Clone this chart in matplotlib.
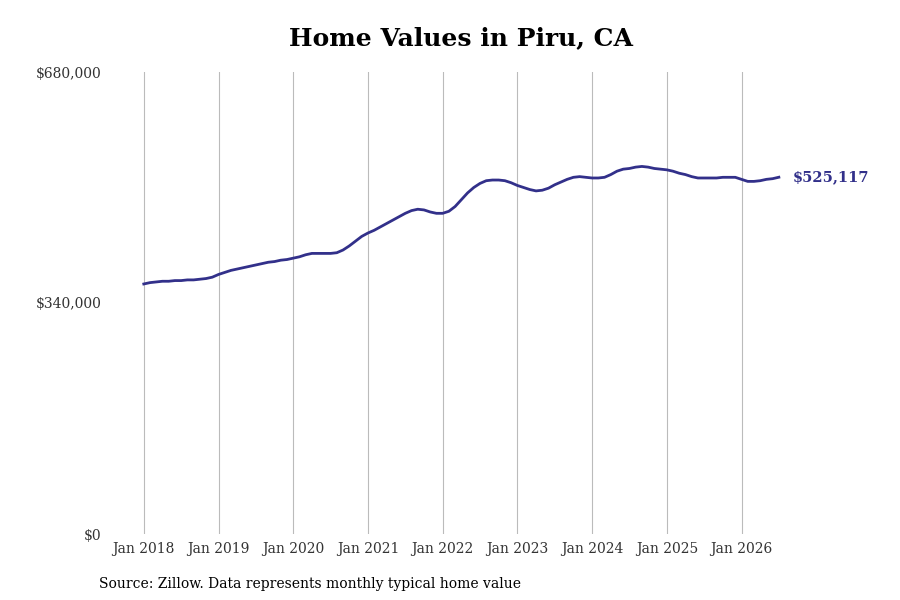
import numpy as np
import matplotlib.pyplot as plt

plt.rcParams['font.family'] = ['DejaVu Serif']

# monthly typical home value, Jan 2018 .. Jul 2026 (thousands of $)
values_k = [
    368, 370, 371, 372, 372, 373, 373, 374, 374, 375, 376, 378,
    382, 385, 388, 390, 392, 394, 396, 398, 400, 401, 403, 404,
    406, 408, 411, 413, 413, 413, 413, 414, 418, 424, 431, 438,
    443, 447, 452, 457, 462, 467, 472, 476, 478, 477, 474, 472,
    472, 475, 482, 492, 502, 510, 516, 520, 521, 521, 520, 517,
    513, 510, 507, 505, 506, 509, 514, 518, 522, 525, 526, 525,
    524, 524, 525, 529, 534, 537, 538, 540, 541, 540, 538, 537,
    536, 534, 531, 529, 526, 524, 524, 524, 524, 525, 525, 525,
    522, 519, 519, 520, 522, 523, 525.117,
]
years = list(range(2018, 2027))
yticks = [0, 340000, 680000]
ytick_labels = ['$0', '$340,000', '$680,000']

values = np.array(values_k) * 1000
t = 2018 + np.arange(len(values)) / 12

fig = plt.figure(figsize=(9, 6), dpi=100)
ax = fig.add_axes([0.122, 0.11, 0.76, 0.77])
color = '#32308a'
ax.plot(t, values, color=color, lw=2)
ax.text(t[-1] + 0.18, values[-1], '$525,117', color=color, fontweight='bold',
        fontsize=10.5, va='center', ha='left')

ax.set_xlim(2017.545, 2026.70)
ax.set_ylim(0, 680000)
ax.set_xticks(years)
ax.set_xticklabels([f'Jan {y}' for y in years], fontsize=10, color='#333333')
ax.set_yticks(yticks)
ax.set_yticklabels(ytick_labels, fontsize=10, color='#333333')
ax.tick_params(length=0, pad=6)
ax.xaxis.grid(True, color='#bbbbbb', lw=0.8)
ax.yaxis.grid(False)
for s in ax.spines.values():
    s.set_visible(False)

fig.text(0.512, 0.925, 'Home Values in Piru, CA', ha='center', fontsize=18, fontweight='bold')
fig.text(0.11, 0.02, 'Source: Zillow. Data represents monthly typical home value', fontsize=10)
fig.savefig('out.png')
